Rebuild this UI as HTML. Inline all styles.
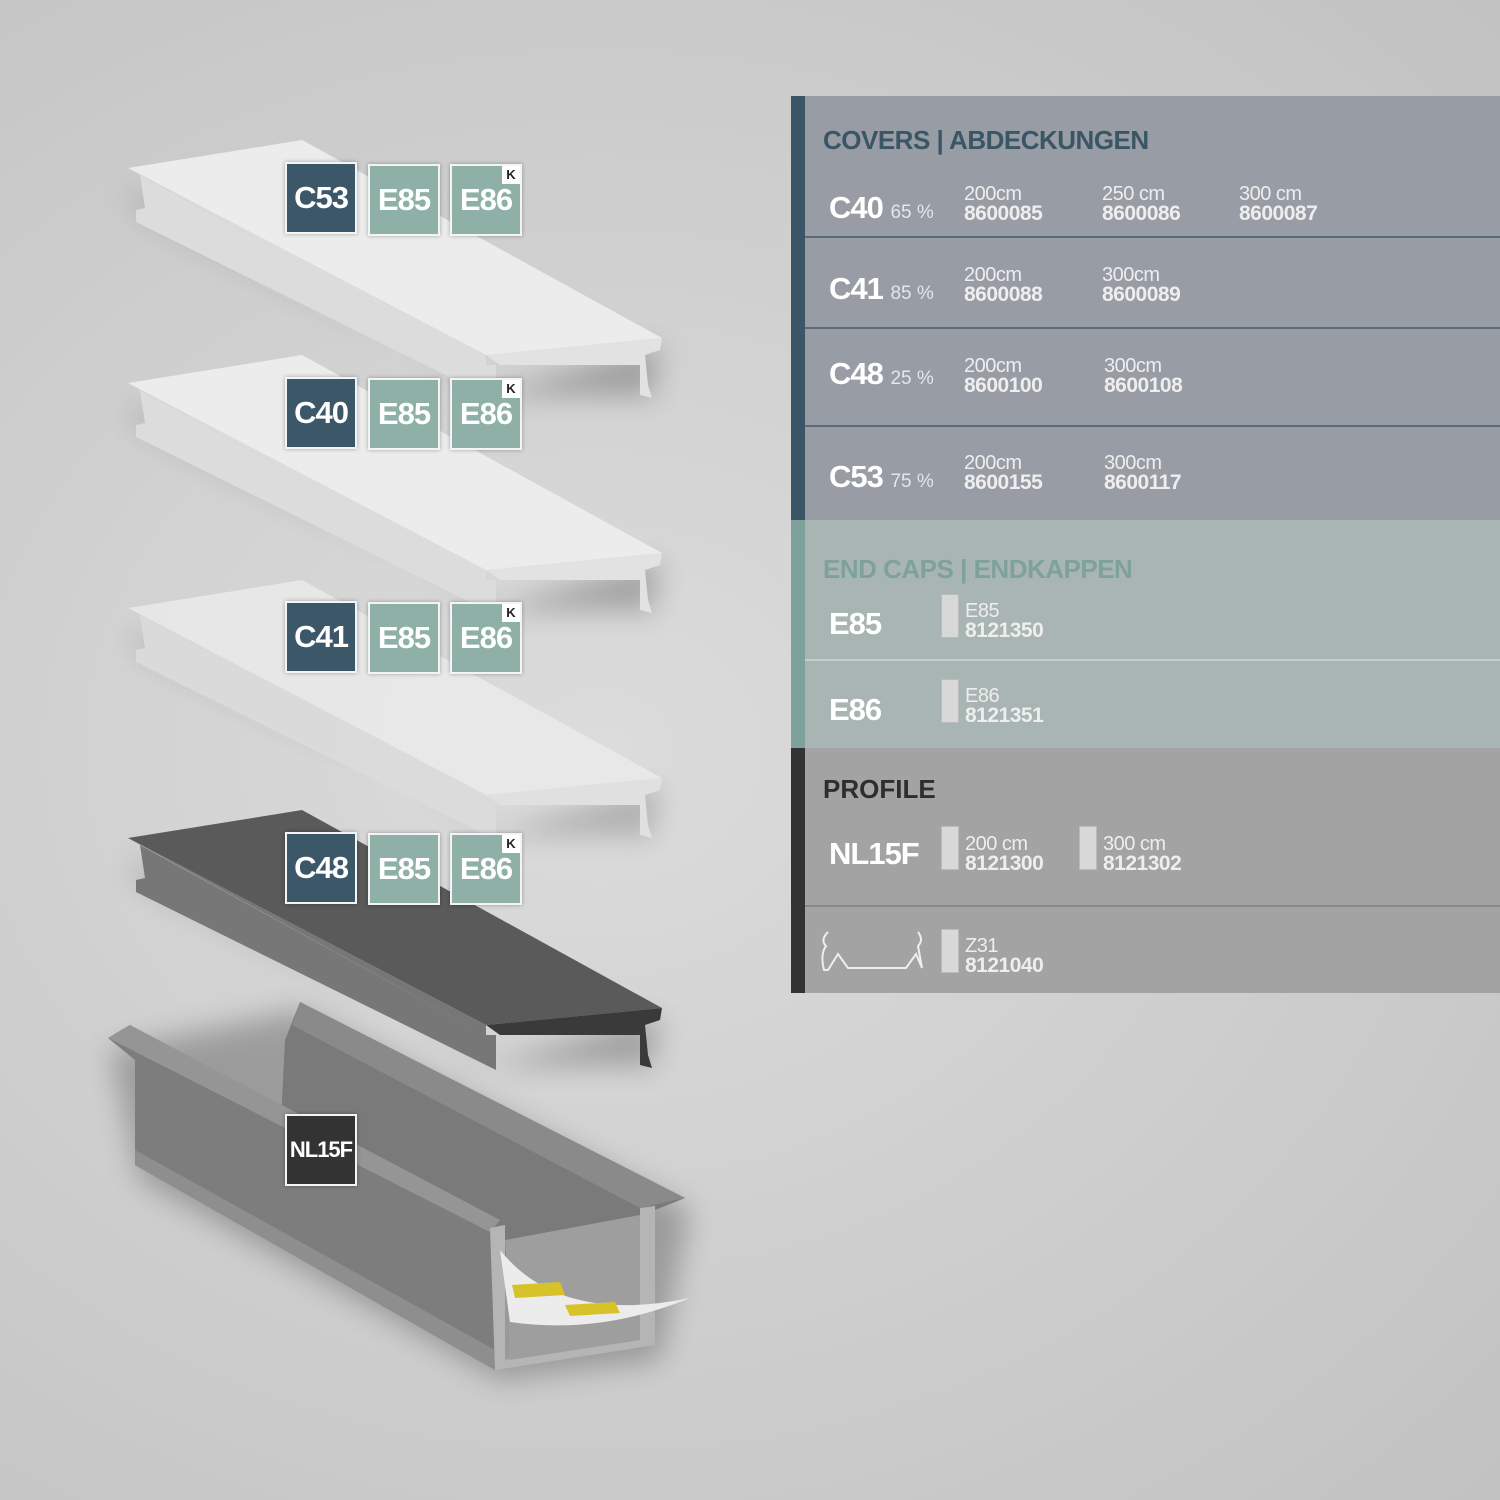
<!DOCTYPE html>
<html><head><style>
body{margin:0;width:1500px;height:1500px;overflow:hidden;background:radial-gradient(ellipse at 40% 50%,#dcdcdc 0%,#cfcfcf 50%,#c2c2c2 100%);font-family:"Liberation Sans Narrow","Liberation Sans",sans-serif;position:relative}
.a{position:absolute}
.b{position:absolute;width:68px;height:68px;border:2px solid #f4f4f4;color:#fff;font-weight:bold;font-size:31px;line-height:68px;text-align:center;box-shadow:0 0 4px rgba(0,0,0,.3);letter-spacing:-1px}
.d{background:#3b5768}.g{background:#8eb0a6}
.k{position:absolute;right:0;top:0;width:18px;height:18px;background:#fff;color:#222;font-size:13px;line-height:18px;letter-spacing:0}
.t{position:absolute;color:#fff;white-space:nowrap}
.big{font-size:31px;font-weight:bold;letter-spacing:-1px}
.pc{font-size:19px;color:#e4e6ea;font-weight:normal;letter-spacing:0}
.sm{font-size:20px;line-height:20px;color:#eee;letter-spacing:-.5px}
.sm b{display:block;font-size:21px}
.hl{position:absolute;left:805px;width:695px;height:2px}
.sw{position:absolute;width:16px;height:42px;background:#d8d8d8;border:1px solid #bbb}
</style></head><body>
<svg class="a" style="left:0;top:0" width="790" height="1500">
<defs><filter id="sh"><feGaussianBlur stdDeviation="14"/></filter></defs>
<g id="c1">
<polygon points="130,190 490,395 660,345 650,400 640,395 500,395 140,210" fill="#000" opacity=".25" filter="url(#sh)"/>
<polygon points="128,168 302,140 662,338 486,355" fill="#ececec"/>
<polygon points="128,168 486,355 486,365 140,175 145,208 136,210 136,222 496,400 496,365 486,365" fill="#dcdcdc"/>
<polygon points="486,355 662,338 660,350 645,355 648,385 652,398 640,395 640,365 500,365" fill="#e2e2e2"/>
</g>
<use href="#c1" y="215"/>
<use href="#c1" y="440" opacity=".8"/>
<polygon points="110,1050 300,1010 690,1210 660,1360 500,1380 140,1180" fill="#000" opacity=".25" filter="url(#sh)"/>
<polygon points="300,1002 685,1198 655,1210 650,1345 280,1140 285,1040" fill="#7a7a7a"/>
<polygon points="300,1002 685,1198 640,1208 292,1025" fill="#8a8a8a"/>
<polygon points="108,1038 130,1025 500,1225 495,1370 135,1165 135,1060" fill="#7d7d7d"/>
<polygon points="108,1038 130,1025 500,1220 490,1232" fill="#959595"/>
<polygon points="135,1150 495,1350 495,1370 135,1165" fill="#8e8e8e"/>
<polygon points="490,1228 505,1225 505,1360 640,1340 640,1208 655,1206 655,1345 495,1370" fill="#b5b5b5"/>
<polygon points="505,1240 640,1215 640,1340 510,1360" fill="#9e9e9e"/>
<path d="M500,1250 Q560,1325 690,1298 Q600,1335 510,1322Z" fill="#ececec"/>
<polygon points="512,1285 560,1282 565,1295 515,1298" fill="#d8c22a"/>
<polygon points="565,1305 615,1302 620,1313 570,1316" fill="#d8c22a"/>
<g transform="translate(0,670)">
<polygon points="130,190 490,395 660,345 650,400 640,395 500,395 140,210" fill="#000" opacity=".25" filter="url(#sh)"/>
<polygon points="128,168 302,140 662,338 486,355" fill="#5a5a5a"/>
<polygon points="128,168 486,355 486,365 140,175 145,208 136,210 136,222 496,400 496,365 486,365" fill="#777"/>
<polygon points="486,355 662,338 660,350 645,355 648,385 652,398 640,395 640,365 500,365" fill="#3a3a3a"/>
</g>
</svg>
<div class="b d" style="left:285px;top:162px">C53</div><div class="b g" style="left:368px;top:164px">E85</div><div class="b g" style="left:450px;top:164px">E86<span class="k">K</span></div>
<div class="b d" style="left:285px;top:377px">C40</div><div class="b g" style="left:368px;top:378px">E85</div><div class="b g" style="left:450px;top:378px">E86<span class="k">K</span></div>
<div class="b d" style="left:285px;top:601px">C41</div><div class="b g" style="left:368px;top:602px">E85</div><div class="b g" style="left:450px;top:602px">E86<span class="k">K</span></div>
<div class="b d" style="left:285px;top:832px">C48</div><div class="b g" style="left:368px;top:833px">E85</div><div class="b g" style="left:450px;top:833px">E86<span class="k">K</span></div>
<div class="b" style="left:285px;top:1114px;background:#333;font-size:22px;letter-spacing:-1px">NL15F</div>

<div class="a" style="left:791px;top:96px;width:709px;height:424px;background:#989ca4"></div>
<div class="a" style="left:791px;top:520px;width:709px;height:228px;background:#a8b5b3"></div>
<div class="a" style="left:791px;top:748px;width:709px;height:245px;background:#a3a3a3"></div>
<div class="a" style="left:791px;top:96px;width:14px;height:424px;background:#3b5566"></div>
<div class="a" style="left:791px;top:520px;width:14px;height:228px;background:#7fa19c"></div>
<div class="a" style="left:791px;top:748px;width:14px;height:245px;background:#333"></div>
<div class="hl" style="top:236px;background:#5a6b77"></div>
<div class="hl" style="top:327px;background:#5a6b77"></div>
<div class="hl" style="top:425px;background:#5a6b77"></div>
<div class="hl" style="top:659px;background:#c4cfcd"></div>
<div class="hl" style="top:905px;background:#888"></div>

<div class="t" style="left:823px;top:125px;font-size:26px;font-weight:bold;color:#3a5566;letter-spacing:-.5px">COVERS | ABDECKUNGEN</div>
<div class="t big" style="left:829px;top:190px">C40 <span class="pc">65 %</span></div>
<div class="t sm" style="left:964px;top:184px">200cm<b>8600085</b></div>
<div class="t sm" style="left:1102px;top:184px">250 cm<b>8600086</b></div>
<div class="t sm" style="left:1239px;top:184px">300 cm<b>8600087</b></div>
<div class="t big" style="left:829px;top:271px">C41 <span class="pc">85 %</span></div>
<div class="t sm" style="left:964px;top:265px">200cm<b>8600088</b></div>
<div class="t sm" style="left:1102px;top:265px">300cm<b>8600089</b></div>
<div class="t big" style="left:829px;top:356px">C48 <span class="pc">25 %</span></div>
<div class="t sm" style="left:964px;top:356px">200cm<b>8600100</b></div>
<div class="t sm" style="left:1104px;top:356px">300cm<b>8600108</b></div>
<div class="t big" style="left:829px;top:459px">C53 <span class="pc">75 %</span></div>
<div class="t sm" style="left:964px;top:453px">200cm<b>8600155</b></div>
<div class="t sm" style="left:1104px;top:453px">300cm<b>8600117</b></div>

<div class="t" style="left:823px;top:554px;font-size:26px;font-weight:bold;color:#7fa19c;letter-spacing:-.5px">END CAPS | ENDKAPPEN</div>
<div class="t big" style="left:829px;top:606px">E85</div>
<div class="sw" style="left:941px;top:594px"></div>
<div class="t sm" style="left:965px;top:601px">E85<b>8121350</b></div>
<div class="t big" style="left:829px;top:692px">E86</div>
<div class="sw" style="left:941px;top:679px"></div>
<div class="t sm" style="left:965px;top:686px">E86<b>8121351</b></div>

<div class="t" style="left:823px;top:774px;font-size:26px;font-weight:bold;color:#2e2e2e">PROFILE</div>
<div class="t big" style="left:829px;top:836px">NL15F</div>
<div class="sw" style="left:941px;top:826px"></div>
<div class="t sm" style="left:965px;top:834px">200 cm<b>8121300</b></div>
<div class="sw" style="left:1079px;top:826px"></div>
<div class="t sm" style="left:1103px;top:834px">300 cm<b>8121302</b></div>
<svg class="a" style="left:818px;top:928px" width="110" height="46"><path d="M10,4 Q2,12 8,18 Q2,26 6,42 L10,42 L20,26 L30,40 L88,40 L98,26 L104,40 L100,18 Q106,12 100,4" fill="none" stroke="#eee" stroke-width="2"/></svg>
<div class="sw" style="left:941px;top:929px"></div>
<div class="t sm" style="left:965px;top:936px">Z31<b>8121040</b></div>
</body></html>
